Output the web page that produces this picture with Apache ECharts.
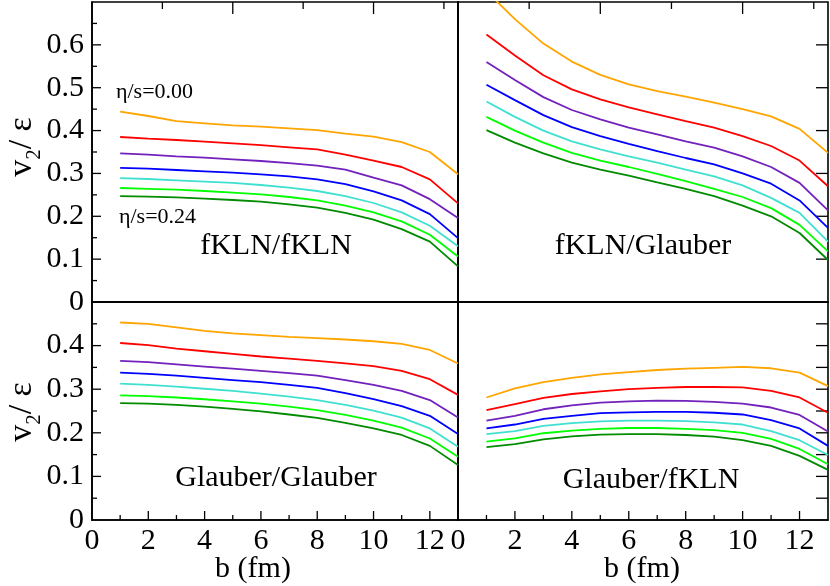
<!DOCTYPE html>
<html>
<head>
<meta charset="utf-8">
<script src="https://cdn.jsdelivr.net/npm/echarts@6/dist/echarts.min.js"></script>
<style>
	html, body { margin: 0; padding: 0; background: #fff; }
	#chart { width: 830px; height: 586px; }
</style>
</head>
<body>
<div id="chart"></div>
<script>
const bValues = [ 1, 2, 3, 4, 5, 6, 7, 8, 9, 10, 11, 12, 13 ];
const etaOverS = [ "0.00", "0.04", "0.08", "0.12", "0.16", "0.20", "0.24" ];
const lineColors = [ "#ffa500", "#ff0000", "#7221bc", "#0000ff", "#40e0d0", "#00ff00", "#008b00" ];

/* tick positions */
const bMajorTicks = [ 2, 4, 6, 8, 10, 12 ];
const bMinorTicks = [ 1, 3, 5, 7, 9, 11 ];
const bTopMajorTicks = [ 5, 10 ];
const bTopMinorTicks = [ 2.5, 7.5, 12.5 ];
const yMajorTicksUpper = [ 0.1, 0.2, 0.3, 0.4, 0.5, 0.6 ];
const yMinorTicksUpper = [ 0.05, 0.15, 0.25, 0.35, 0.45, 0.55, 0.65 ];
const yMajorTicksLower = [ 0.1, 0.2, 0.3, 0.4 ];
const yMinorTicksLower = [ 0.05, 0.15, 0.25, 0.35, 0.45 ];
const yRightTicksUpper = [ 0.1, 0.2, 0.3, 0.4, 0.5, 0.6 ];
const yRightTicksLower = [ 0.05, 0.1, 0.15, 0.2, 0.25, 0.3, 0.35, 0.4, 0.45 ];

/* v2/eps vs b, one row per eta/s (0.00 at top) */
const fklnFkln = [
	[ 0.444, 0.434, 0.422, 0.417, 0.412, 0.409, 0.405, 0.401, 0.393, 0.386, 0.373, 0.350, 0.298 ],
	[ 0.385, 0.381, 0.378, 0.374, 0.370, 0.366, 0.361, 0.356, 0.344, 0.330, 0.315, 0.286, 0.230 ],
	[ 0.347, 0.344, 0.340, 0.337, 0.333, 0.329, 0.324, 0.318, 0.309, 0.290, 0.272, 0.240, 0.196 ],
	[ 0.313, 0.311, 0.308, 0.305, 0.302, 0.298, 0.293, 0.286, 0.275, 0.258, 0.237, 0.205, 0.149 ],
	[ 0.289, 0.287, 0.284, 0.281, 0.278, 0.273, 0.267, 0.259, 0.247, 0.231, 0.209, 0.178, 0.130 ],
	[ 0.266, 0.264, 0.262, 0.259, 0.255, 0.251, 0.245, 0.237, 0.225, 0.209, 0.188, 0.157, 0.106 ],
	[ 0.247, 0.246, 0.244, 0.241, 0.238, 0.234, 0.228, 0.220, 0.208, 0.192, 0.170, 0.141, 0.083 ]
];
const fklnGlauber = [
	[ 0.725, 0.660, 0.603, 0.561, 0.530, 0.508, 0.492, 0.479, 0.465, 0.450, 0.433, 0.404, 0.348 ],
	[ 0.624, 0.575, 0.529, 0.496, 0.473, 0.454, 0.438, 0.422, 0.407, 0.387, 0.364, 0.330, 0.270 ],
	[ 0.560, 0.518, 0.478, 0.448, 0.426, 0.407, 0.391, 0.375, 0.360, 0.340, 0.315, 0.278, 0.214 ],
	[ 0.507, 0.471, 0.436, 0.408, 0.387, 0.369, 0.352, 0.336, 0.321, 0.300, 0.276, 0.237, 0.173 ],
	[ 0.468, 0.432, 0.400, 0.375, 0.356, 0.340, 0.325, 0.309, 0.293, 0.272, 0.243, 0.208, 0.141 ],
	[ 0.432, 0.400, 0.372, 0.348, 0.330, 0.315, 0.299, 0.282, 0.264, 0.245, 0.219, 0.180, 0.118 ],
	[ 0.401, 0.372, 0.347, 0.325, 0.309, 0.295, 0.279, 0.264, 0.247, 0.225, 0.200, 0.161, 0.098 ]
];
const glauberGlauber = [
	[ 0.453, 0.450, 0.442, 0.434, 0.428, 0.424, 0.420, 0.417, 0.414, 0.410, 0.404, 0.390, 0.359 ],
	[ 0.406, 0.401, 0.393, 0.387, 0.381, 0.375, 0.370, 0.365, 0.359, 0.353, 0.342, 0.323, 0.287 ],
	[ 0.365, 0.362, 0.357, 0.352, 0.347, 0.342, 0.337, 0.331, 0.321, 0.310, 0.296, 0.275, 0.235 ],
	[ 0.338, 0.335, 0.331, 0.326, 0.321, 0.316, 0.310, 0.303, 0.291, 0.277, 0.261, 0.239, 0.197 ],
	[ 0.313, 0.310, 0.306, 0.301, 0.296, 0.290, 0.283, 0.275, 0.264, 0.251, 0.235, 0.210, 0.168 ],
	[ 0.286, 0.284, 0.281, 0.277, 0.272, 0.267, 0.260, 0.252, 0.241, 0.228, 0.212, 0.187, 0.145 ],
	[ 0.268, 0.267, 0.264, 0.260, 0.255, 0.249, 0.242, 0.234, 0.223, 0.210, 0.195, 0.170, 0.126 ]
];
const glauberFkln = [
	[ 0.281, 0.302, 0.316, 0.326, 0.334, 0.339, 0.344, 0.347, 0.349, 0.351, 0.348, 0.338, 0.307 ],
	[ 0.252, 0.266, 0.280, 0.289, 0.295, 0.300, 0.303, 0.305, 0.305, 0.304, 0.296, 0.281, 0.246 ],
	[ 0.228, 0.239, 0.254, 0.263, 0.269, 0.272, 0.274, 0.273, 0.271, 0.267, 0.258, 0.241, 0.203 ],
	[ 0.210, 0.219, 0.232, 0.239, 0.245, 0.247, 0.248, 0.248, 0.246, 0.242, 0.229, 0.210, 0.170 ],
	[ 0.197, 0.204, 0.216, 0.222, 0.226, 0.228, 0.228, 0.227, 0.224, 0.219, 0.204, 0.183, 0.149 ],
	[ 0.180, 0.187, 0.199, 0.205, 0.209, 0.211, 0.211, 0.209, 0.206, 0.200, 0.186, 0.163, 0.128 ],
	[ 0.167, 0.174, 0.185, 0.192, 0.196, 0.197, 0.197, 0.195, 0.191, 0.183, 0.170, 0.147, 0.115 ]
];

const serif = "'Liberation Serif', 'DejaVu Serif', serif";
const black = "#000";

/* edge codes for the tick series */
const LEFT = 0, RIGHT = 1, BOTTOM = 2, TOP = 3;
/* tick length by edge and kind (0 major, 1 minor) */
const tickLength = {
	[ LEFT ]: [ 9, 5 ],
	[ RIGHT ]: [ 12, 12 ],
	[ BOTTOM ]: [ 9, 5 ],
	[ TOP ]: [ 12, 7 ]
};

const panels = [
	{ rows: fklnFkln,       left: 92,  top: 2,   width: 366, height: 300, yMax: 0.7, leftAxis: true,  bottomAxis: false },
	{ rows: fklnGlauber,    left: 458, top: 2,   width: 370, height: 300, yMax: 0.7, leftAxis: false, bottomAxis: false },
	{ rows: glauberGlauber, left: 92,  top: 302, width: 366, height: 218, yMax: 0.5, leftAxis: true,  bottomAxis: true },
	{ rows: glauberFkln,    left: 458, top: 302, width: 370, height: 218, yMax: 0.5, leftAxis: false, bottomAxis: true }
];

/* [edge, value, kind] list for one panel */
function panelTicks( p ) {
	const t = [];
	const add = ( edge, list, kind ) => list.forEach( v => t.push( [ edge, v, kind ] ) );
	const upper = p.yMax > 0.6;
	if ( p.bottomAxis ) {
		add( BOTTOM, bMajorTicks, 0 );
		add( BOTTOM, bMinorTicks, 1 );
	} else {
		add( TOP, bTopMajorTicks, 0 );
		add( TOP, bTopMinorTicks, 1 );
	}
	if ( p.leftAxis ) {
		add( LEFT, upper ? yMajorTicksUpper : yMajorTicksLower, 0 );
		add( LEFT, upper ? yMinorTicksUpper : yMinorTicksLower, 1 );
	} else {
		add( RIGHT, upper ? yRightTicksUpper : yRightTicksLower, 0 );
	}
	return t;
}

/* draws one inward tick through the panel's own axes */
function tickRenderer( yMax ) {
	return function ( params, api ) {
		const edge = api.value( 0 ), v = api.value( 1 ), kind = api.value( 2 );
		const len = tickLength[edge][kind];
		let p, q;
		if ( edge === LEFT ) {
			p = api.coord( [ 0, v ] ); q = [ p[0] + len, p[1] ];
		} else if ( edge === RIGHT ) {
			p = api.coord( [ 13, v ] ); q = [ p[0] - len, p[1] ];
		} else if ( edge === BOTTOM ) {
			p = api.coord( [ v, 0 ] ); q = [ p[0], p[1] - len ];
		} else {
			p = api.coord( [ v, yMax ] ); q = [ p[0], p[1] + len ];
		}
		return {
			type: "line",
			shape: { x1: p[0], y1: p[1], x2: q[0], y2: q[1] },
			style: { stroke: black, lineWidth: 1.3 }
		};
	};
}

const grid = [], xAxis = [], yAxis = [], series = [];

function frameLine() {
	return { show: true, onZero: false, lineStyle: { color: black, width: 1.6 } };
}

panels.forEach( ( p, gi ) => {
	grid.push( {
		left: p.left, top: p.top, width: p.width, height: p.height,
		show: true, borderColor: black, borderWidth: 1.6, backgroundColor: "transparent"
	} );

	xAxis.push( {
		type: "value",
		gridIndex: gi,
		position: "bottom",
		min: 0,
		max: 13,
		interval: 2,
		axisLine: frameLine(),
		splitLine: { show: false },
		axisTick: { show: false },
		axisLabel: {
			show: p.bottomAxis, showMaxLabel: false, margin: 6,
			color: black, fontFamily: serif, fontSize: 30
		}
	} );

	yAxis.push( {
		type: "value",
		gridIndex: gi,
		position: "left",
		min: 0,
		max: p.yMax,
		interval: 0.1,
		axisLine: frameLine(),
		splitLine: { show: false },
		axisTick: { show: false },
		axisLabel: {
			show: p.leftAxis, showMaxLabel: false, margin: 8,
			color: black, fontFamily: serif, fontSize: 30,
			formatter: v => v === 0 ? "0" : v.toFixed( 1 )
		}
	} );

	p.rows.forEach( ( row, k ) => {
		series.push( {
			type: "line",
			name: "η/s=" + etaOverS[k],
			xAxisIndex: gi,
			yAxisIndex: gi,
			data: bValues.map( ( b, i ) => [ b, row[i] ] ),
			symbol: "none",
			lineStyle: { width: 1.8, color: lineColors[k] },
			itemStyle: { color: lineColors[k] },
			clip: true
		} );
	} );

	series.push( {
		type: "custom",
		name: "ticks" + gi,
		xAxisIndex: gi,
		yAxisIndex: gi,
		silent: true,
		clip: false,
		z: 3,
		data: panelTicks( p ),
		renderItem: tickRenderer( p.yMax )
	} );
} );

const yTitleRich = {
	v: { fontFamily: serif, fontSize: 34, lineHeight: 36, verticalAlign: "top", fill: black },
	s: { fontFamily: serif, fontSize: 21, lineHeight: 21, padding: [ 19, 0, 0, 0 ], verticalAlign: "top", fill: black }
};

function textEl( x, y, text, size, align ) {
	return {
		type: "text", x, y, z: 10,
		style: {
			text, fill: black, fontFamily: serif, fontSize: size,
			textAlign: align || "center", textVerticalAlign: "middle"
		}
	};
}

function yTitle( x, y ) {
	return {
		type: "text", x, y, z: 10, rotation: Math.PI / 2,
		style: {
			text: "{v|v}{s|2}{v|/ ε}",
			rich: yTitleRich,
			textAlign: "center", textVerticalAlign: "middle"
		}
	};
}

const graphic = [
	yTitle( 23, 147 ),
	yTitle( 23, 412 ),
	textEl( 276, 246, "fKLN/fKLN", 30 ),
	textEl( 643, 246, "fKLN/Glauber", 30 ),
	textEl( 276, 478, "Glauber/Glauber", 30 ),
	textEl( 651, 480, "Glauber/fKLN", 30 ),
	textEl( 116, 92, "η/s=0.00", 22, "left" ),
	textEl( 119, 217, "η/s=0.24", 22, "left" ),
	textEl( 253, 569, "b (fm)", 30 ),
	textEl( 642, 569, "b (fm)", 30 )
];

const chart = echarts.init( document.getElementById( "chart" ), null, { renderer: "canvas" } );
chart.setOption( {
	animation: false,
	backgroundColor: "#fff",
	grid,
	xAxis,
	yAxis,
	series,
	graphic
} );
</script>
</body>
</html>
